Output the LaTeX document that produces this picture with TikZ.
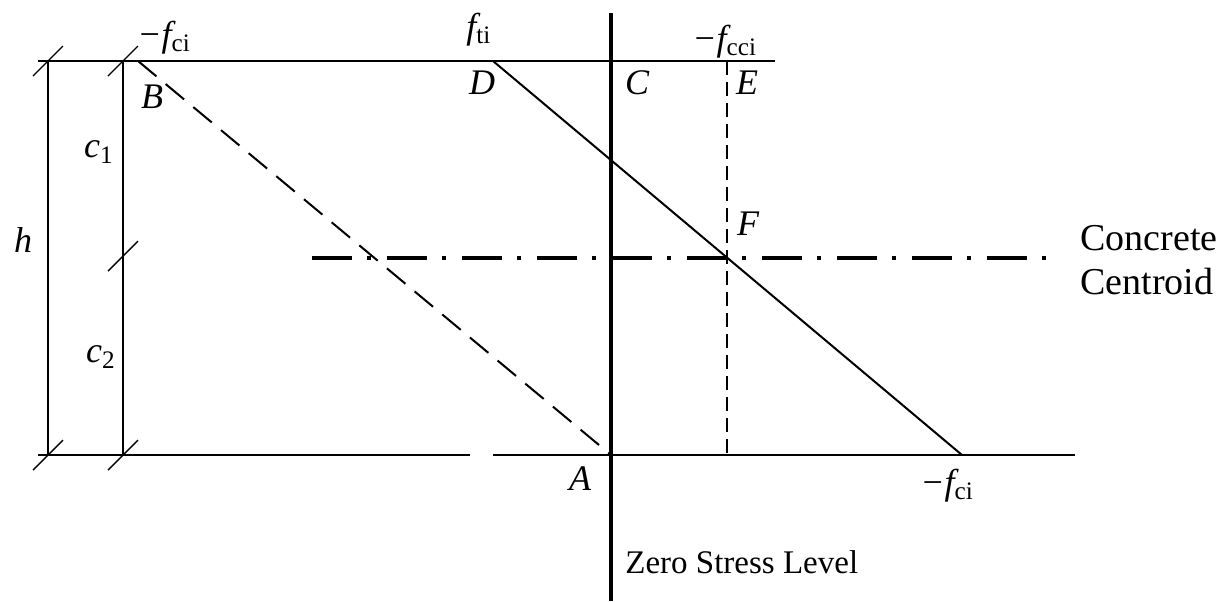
\documentclass[tikz,border=0pt]{standalone}
\usepackage{fontspec}
\setmainfont{Liberation Serif}
\newcommand{\fsub}[1]{f\textsubscript{\upshape #1}}
\begin{document}
\begin{tikzpicture}[x=0.5pt,y=-0.5pt,
    lbl/.style={font=\fontsize{18}{20}\selectfont\itshape, inner sep=0pt},
    txt/.style={font=\fontsize{16.5}{20}\selectfont, inner sep=0pt},
    tk/.style={line width=0.7pt}]
    \useasboundingbox (0,0) rectangle (1229,601);
    % points
    \coordinate (T0) at (38,61);\coordinate (T1) at (48,61);\coordinate (T2) at (123,61);\coordinate (B) at (138,61);
    \coordinate (D) at (493,61);\coordinate (E) at (727,61);\coordinate (T3) at (775,61);
    \coordinate (L0) at (38,455);\coordinate (L1) at (48,455);\coordinate (L2) at (123,455);\coordinate (G0) at (470,455);
    \coordinate (G1) at (493,455);\coordinate (A) at (611,455);\coordinate (Ex) at (727,455);\coordinate (R) at (962,455);\coordinate (L3) at (1075,455);
    \coordinate (M) at (123,256);\coordinate (Z0) at (611,13);\coordinate (Z1) at (611,601);
    \coordinate (K0) at (312,258);\coordinate (K1) at (1056,258);
    % line
    \draw [line width=1pt] (T0) -- (T3);\draw [line width=1pt] (L0) -- (G0);\draw [line width=1pt] (G1) -- (L3);
    \draw [line width=1pt] (T1) -- (L1);\draw [line width=1pt] (T2) -- (L2);
    \draw [line width=2.2pt] (Z0) -- (Z1);
    \draw [line width=1pt] (D) -- (R);
    \draw [line width=1pt, dash pattern=on 12pt off 6pt] (B) -- (A);
    \draw [line width=0.75pt, dash pattern=on 7pt off 3.5pt] (E) -- (Ex);
    \draw [line width=2pt, dash pattern=on 20pt off 7.5pt on 2pt off 8pt] (K0) -- (K1);
    % ticks
    \foreach \p in {T1,T2,L1,L2,M} {\draw [tk] (\p) +(-15,15) -- +(15,-15);}
    % letter
    \node [lbl, anchor=base west] (fci) at (137,46) {−\fsub{ci}};
    \node [lbl, anchor=base west] (fti) at (466,38) {\fsub{ti}};
    \node [lbl, anchor=base west] (fcci) at (692,50) {−\fsub{cci}};
    \node [lbl] (lB) at (152,97) {B};\node [lbl] (lD) at (482,83) {D};\node [lbl] (lC) at (637,83) {C};
    \node [lbl] (lE) at (747,83) {E};\node [lbl] (lF) at (748,224) {F};\node [lbl] (lA) at (580,479) {A};
    \node [lbl] (lh) at (23,240) {h};
    \node [lbl] (lc1) at (99,152) {c\textsubscript{\upshape 1}};\node [lbl] (lc2) at (101,357) {c\textsubscript{\upshape 2}};
    \node [lbl, anchor=base west] (fcib) at (920,494) {−\fsub{ci}};
    \node [txt, anchor=base west] (zero) at (625,573) {Zero Stress Level};
    \node [font=\fontsize{19}{22}\selectfont, inner sep=0pt, anchor=west, align=left] (cc) at (1080,260) {Concrete\\Centroid};
\end{tikzpicture}
\end{document}
